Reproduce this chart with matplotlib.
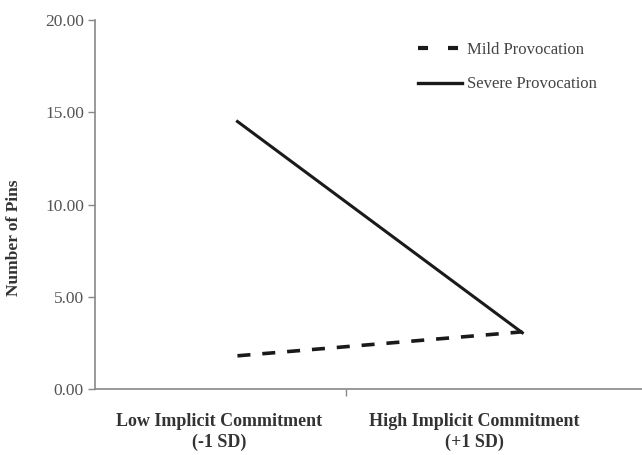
import matplotlib
matplotlib.use("Agg")
from matplotlib import pyplot as plt
from matplotlib.lines import Line2D

# data
conditions = ["Low Implicit Commitment\n(-1 SD)", "High Implicit Commitment\n(+1 SD)"]
mild = [1.8, 3.1]
severe = [14.5, 3.05]
yticks = [0, 5, 10, 15, 20]

plt.rcParams['font.family'] = ['Liberation Serif', 'DejaVu Serif']

fig = plt.figure(figsize=(6.42, 4.55), dpi=100)
ax = fig.add_axes([0.148, 0.145, 0.852, 0.811])

x = range(len(conditions))
ax.plot(x, mild, color="#1a1a1a", lw=2.6, dashes=(3.6, 3.3))
ax.plot(x, severe, color="#1a1a1a", lw=2.2)

# 坐标轴范围
ax.set_xlim(-0.5, 1.42)
ax.set_ylim(0, 20)

ax.set_yticks(yticks)
ax.set_yticklabels(["{:.2f}".format(v) for v in yticks], fontsize=12.5, color="#555555")
ax.set_xticks([0.38])
ax.set_xticklabels([])
ax.tick_params(axis="both", direction="out", length=5, width=1, color="#888888", pad=3)

for s in ["top", "right"]:
    ax.spines[s].set_visible(False)
for s in ["left", "bottom"]:
    ax.spines[s].set_color("#888888")
    ax.spines[s].set_linewidth(1.2)

# 类别标签
label_pos = [-0.063, 0.832]
for px, lab in zip(label_pos, conditions):
    ax.text(px, -1.3, lab, ha="center", va="top", fontsize=13, fontweight="bold",
            color="#333333", linespacing=1.3)

ax.set_ylabel("Number of Pins", fontsize=12.5, fontweight="bold", color="#333333")
ax.yaxis.set_label_coords(-0.133, 0.41)

# 图例
handles = [Line2D([], [], color="#1a1a1a", lw=3, dashes=(2.4, 4.8)),
           Line2D([], [], color="#1a1a1a", lw=2.4)]
leg = ax.legend(handles, ["Mild Provocation", "Severe Provocation"], loc="upper left",
                bbox_to_anchor=(0.563, 0.981), frameon=False, fontsize=12,
                handlelength=2.64, handletextpad=0.3, labelspacing=1.1)
for t in leg.get_texts():
    t.set_color("#444444")

fig.savefig("out.png", dpi=100, facecolor="white")
